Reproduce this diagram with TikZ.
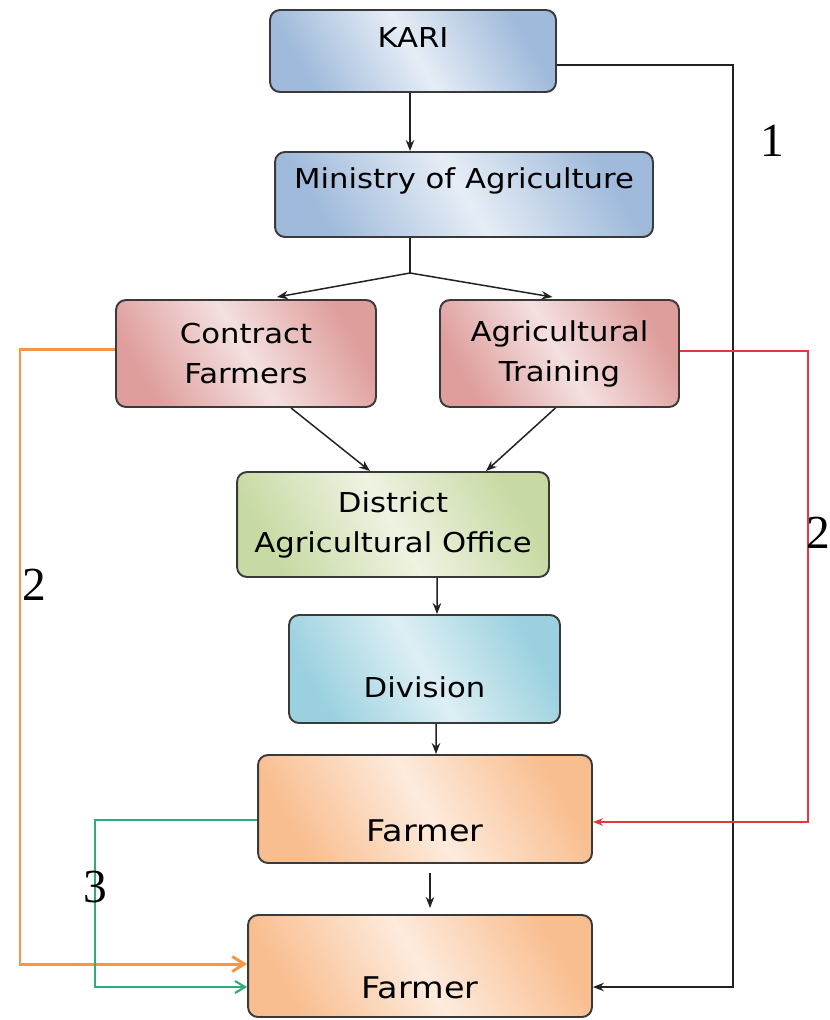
\documentclass[tikz,border=0pt]{standalone}
\usepackage{fontspec}
\setmainfont{DejaVu Sans}[FakeStretch=1.12]
\newfontfamily\numfont{Liberation Serif}
\usetikzlibrary{arrows.meta,calc}

\definecolor{boxline}{HTML}{3A3A3A}
\definecolor{bluedark}{HTML}{9FBADB}
\definecolor{bluelight}{HTML}{E6EDF6}
\definecolor{reddark}{HTML}{DE9E9C}
\definecolor{redlight}{HTML}{F4E0E0}
\definecolor{greendark}{HTML}{C8DAA4}
\definecolor{greenlight}{HTML}{EEF3E2}
\definecolor{cyandark}{HTML}{9BD1DF}
\definecolor{cyanlight}{HTML}{DDEFF4}
\definecolor{orangedark}{HTML}{F9BE90}
\definecolor{orangelight}{HTML}{FDEBDD}
\definecolor{orangeline}{HTML}{F79646}
\definecolor{greenline}{HTML}{2EAD78}
\definecolor{redline}{HTML}{E0383C}
\definecolor{linkgray}{HTML}{222222}

\tikzset{
    box/.style={draw=boxline, line width=1.1pt, rounded corners=0.2cm, inner sep=0pt,
        align=center, font=\fontsize{15.6}{22.8}\selectfont},
    bluebox/.style={box, left color=bluedark, right color=bluedark, middle color=bluelight, shading angle=-60},
    redbox/.style={box, left color=reddark, right color=reddark, middle color=redlight, shading angle=-60},
    greenbox/.style={box, left color=greendark, right color=greendark, middle color=greenlight, shading angle=-60},
    cyanbox/.style={box, left color=cyandark, right color=cyandark, middle color=cyanlight, shading angle=-60},
    farmerbox/.style={box, left color=orangedark, right color=orangedark, middle color=orangelight, shading angle=-60,
        font=\fontsize{17}{22}\selectfont},
    link/.style={draw=linkgray, line width=0.85pt, -{Stealth[length=0.22cm,width=0.17cm]}},
    num/.style={inner sep=0pt, font=\numfont\fontsize{27}{27}\selectfont},
}

\begin{document}
\begin{tikzpicture}[x=0.02cm, y=-0.02cm]
    \useasboundingbox (0,0) rectangle (829,1020);

    \node[bluebox, minimum width=5.72cm, text height=0.76cm, text depth=0.88cm] (kari) at (413,51) {KARI};
    \node[bluebox, minimum width=7.56cm, text height=0.74cm, text depth=0.96cm] (ministry) at (464,194.5) {Ministry of Agriculture};
    \node[redbox, minimum width=5.2cm, minimum height=2.14cm] (contract) at (246,353.5) {Contract\\Farmers};
    \node[redbox, minimum width=4.78cm, minimum height=2.14cm] (training) at (559.5,353.5) {Agricultural\\Training};
    \node[greenbox, minimum width=6.24cm, minimum height=2.1cm] (district) at (393,524.5) {District\\Agricultural Office};
    \node[cyanbox, minimum width=5.42cm, text height=1.64cm, text depth=0.52cm] (division) at (424.5,669) {Division};
    \node[farmerbox, minimum width=6.68cm, text height=1.72cm, text depth=0.44cm] (farmerA) at (425,809) {Farmer};
    \node[farmerbox, minimum width=6.88cm, text height=1.66cm, text depth=0.38cm] (farmerB) at (420,966) {Farmer};

    \coordinate (split) at (410,273);
    \coordinate (kariturn) at (733,65);
    \coordinate (karidown) at (733,987);

    \draw[link] (kari.south -| split) -- (split |- ministry.north);
    \draw[linkgray, line width=0.85pt] (split |- ministry.south) -- (split);
    \draw[link] (split) -- ($(contract.north)+(31,-2)$);
    \draw[link] (split) -- ($(training.north)+(-7,-2)$);
    \draw[link] ($(contract.south)+(45,0)$) -- ($(district.north)+(-23,0)$);
    \draw[link] ($(training.south)+(-4,0)$) -- ($(district.north)+(93,0)$);
    \draw[link] ($(district.south)+(44,0)$) -- ($(division.north)+(12.5,0)$);
    \draw[link] ($(division.south)+(11.5,0)$) -- ($(farmerA.north)+(11,0)$);
    \draw[link] ($(farmerA.south)+(5,9)$) -- ($(farmerA.south)+(5,44)$);

    \draw[link] ($(kari.east)+(0,14)$) -- (kariturn) -- (karidown) -- (karidown -| farmerB.east);

    \draw[orangeline, line width=1.7pt, -{Straight Barb[length=0.24cm,width=0.3cm]}]
        ($(contract.west)+(0,-4)$) -| (20,964) -- ($(farmerB.west)+(0,-2)$);
    \draw[greenline, line width=1.2pt, -{Straight Barb[length=0.2cm,width=0.24cm]}]
        ($(farmerA.west)+(0,11)$) -| (95,987) -- ($(farmerB.west)+(0,21)$);
    \draw[redline, line width=1.1pt, -{Stealth[length=0.2cm,width=0.15cm]}]
        ($(training.east)+(0,-2.5)$) -| (808,822) -- ($(farmerA.east)+(0,13)$);

    \node[num] (one) at (772,141) {1};
    \node[num] (twoleft) at (34,585) {2};
    \node[num] (tworight) at (818,533) {2};
    \node[num] (three) at (95,887) {3};

\end{tikzpicture}
\end{document}
